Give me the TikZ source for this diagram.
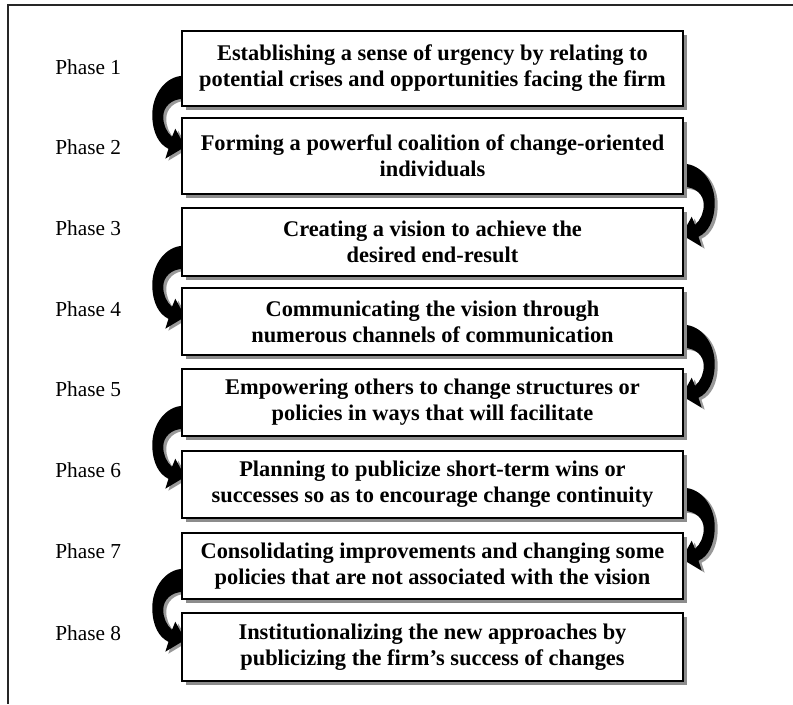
\documentclass[tikz,border=0pt]{standalone}
\usepackage{fontspec}
\setmainfont{Liberation Serif}
\usetikzlibrary{shadows}
\pgfdeclarelayer{background}
\pgfsetlayers{background,main}
\tikzset{
  stagebox/.style={draw=black, line width=1.1pt, fill=white,
    minimum width=375.75pt, inner sep=0pt, align=center,
    font=\bfseries\fontsize{16.8}{19.5}\selectfont,
    drop shadow={shadow xshift=3pt, shadow yshift=-3pt, fill=black!45, opacity=1}},
  phaselabel/.style={anchor=west, inner sep=0pt, font=\fontsize{16}{19}\selectfont},
  frameline/.style={draw=black!85, line width=1.2pt},
  pics/karrow/.style={code={
    \fill[black!40, shift={(3,2)}, xscale=#1]
      (3,-31) .. controls (-16,-31) and (-29,-12) .. (-29,8)
      .. controls (-29,26) and (-22,38) .. (-12.7,42)
      -- (-16,52) -- (4,40) -- (-6,22) -- (-9.3,30.2)
      .. controls (-15,25) and (-18,18) .. (-18,10)
      .. controls (-18,0) and (-10,-8) .. (3,-8) -- cycle;
    \fill[black, xscale=#1]
      (3,-31) .. controls (-16,-31) and (-29,-12) .. (-29,8)
      .. controls (-29,26) and (-22,38) .. (-12.7,42)
      -- (-16,52) -- (4,40) -- (-6,22) -- (-9.3,30.2)
      .. controls (-15,25) and (-18,18) .. (-18,10)
      .. controls (-18,0) and (-10,-8) .. (3,-8) -- cycle;
  }}
}
\begin{document}
\begin{tikzpicture}[x=0.75pt, y=-0.75pt]
\useasboundingbox (0,0) rectangle (793,704);
\draw[frameline] (793,5) -- (8,5) -- (8,704);

\node[stagebox, minimum height=56.25pt] (b1) at (432.5,68.5)
  {Establishing a sense of urgency by relating to\\potential crises and opportunities facing the firm};
\node[stagebox, minimum height=57pt] (b2) at (432.5,156)
  {Forming a powerful coalition of change-oriented\\individuals};
\node[stagebox, minimum height=51pt] (b3) at (432.5,242)
  {Creating a vision to achieve the\\desired end-result};
\node[stagebox, minimum height=50.25pt] (b4) at (432.5,321.5)
  {Communicating the vision through\\numerous channels of communication};
\node[stagebox, minimum height=50.25pt] (b5) at (432.5,402.5)
  {Empowering others to change structures or\\policies in ways that will facilitate};
\node[stagebox, minimum height=50.25pt] (b6) at (432.5,484.5)
  {Planning to publicize short-term wins or\\successes so as to encourage change continuity};
\node[stagebox, minimum height=49.5pt] (b7) at (432.5,566)
  {Consolidating improvements and changing some\\policies that are not associated with the vision};
\node[stagebox, minimum height=51pt] (b8) at (432.5,647)
  {Institutionalizing the new approaches by\\publicizing the firm’s success of changes};

\node[phaselabel] (p1) at (55,67) {Phase 1};
\node[phaselabel] (p2) at (55,147) {Phase 2};
\node[phaselabel] (p3) at (55,228) {Phase 3};
\node[phaselabel] (p4) at (55,309) {Phase 4};
\node[phaselabel] (p5) at (55,389) {Phase 5};
\node[phaselabel] (p6) at (55,470) {Phase 6};
\node[phaselabel] (p7) at (55,551) {Phase 7};
\node[phaselabel] (p8) at (55,633) {Phase 8};

\begin{pgfonlayer}{background}
  \pic at (b1.south west) {karrow=1};
  \pic at ([xshift=1.5pt]b2.south east) {karrow=-1};
  \pic at (b3.south west) {karrow=1};
  \pic at ([xshift=1.5pt]b4.south east) {karrow=-1};
  \pic at (b5.south west) {karrow=1};
  \pic at ([xshift=1.5pt]b6.south east) {karrow=-1};
  \pic at (b7.south west) {karrow=1};
\end{pgfonlayer}
\end{tikzpicture}
\end{document}
